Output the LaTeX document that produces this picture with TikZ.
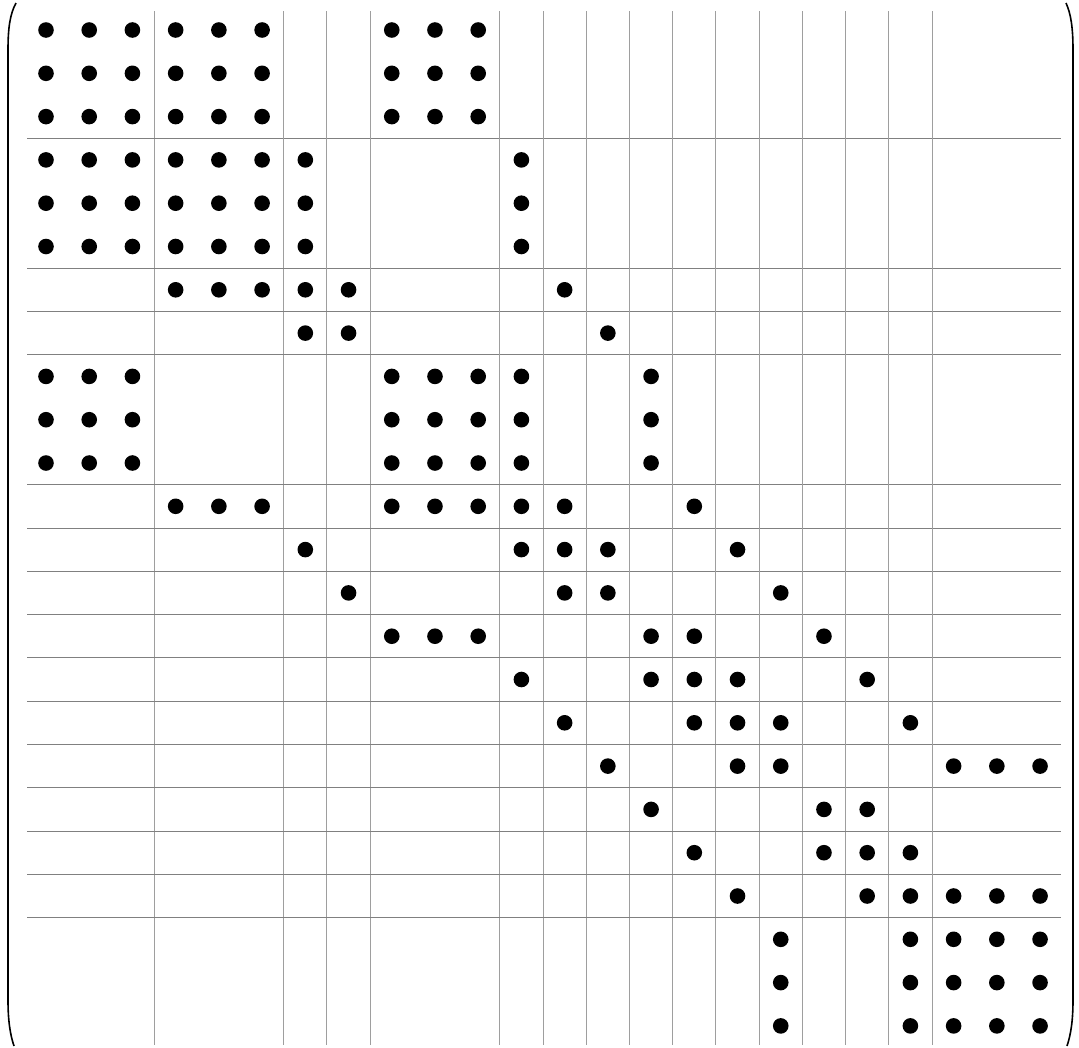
\documentclass[tikz,border=0pt]{standalone}
\begin{document}
\begin{tikzpicture}[x=1pt,y=-1pt,
  vline/.style={draw=black!38,line width=0.9pt},
  hline/.style={draw=black!50,line width=0.9pt},
  paren/.style={draw=black,line width=1.6pt},
  dotmark/.style={fill=black}]
\useasboundingbox (0,0) rectangle (1079,1047);
\def\xs{43.22}\def\ys{43.3}
% grid lines
\foreach \k in {3,6,7,8,11,12,13,14,15,16,17,18,19,20,21}{
  \pgfmathsetmacro\gx{46+(\k-0.5)*\xs}
  \pgfmathsetmacro\gy{30+(\k-0.5)*\ys}
  \draw[vline] (\gx,11) -- (\gx,1045);
  \draw[hline] (27,\gy) -- (1061,\gy);
}
% dots
\foreach \r/\cs in {
 1/{1,2,3,4,5,6,9,10,11},
 2/{1,2,3,4,5,6,9,10,11},
 3/{1,2,3,4,5,6,9,10,11},
 4/{1,2,3,4,5,6,7,12},
 5/{1,2,3,4,5,6,7,12},
 6/{1,2,3,4,5,6,7,12},
 7/{4,5,6,7,8,13},
 8/{7,8,14},
 9/{1,2,3,9,10,11,12,15},
 10/{1,2,3,9,10,11,12,15},
 11/{1,2,3,9,10,11,12,15},
 12/{4,5,6,9,10,11,12,13,16},
 13/{7,12,13,14,17},
 14/{8,13,14,18},
 15/{9,10,11,15,16,19},
 16/{12,15,16,17,20},
 17/{13,16,17,18,21},
 18/{14,17,18,22,23,24},
 19/{15,19,20},
 20/{16,19,20,21},
 21/{17,20,21,22,23,24},
 22/{18,21,22,23,24},
 23/{18,21,22,23,24},
 24/{18,21,22,23,24}}{
  \foreach \c in \cs {
    \fill[dotmark] ({46+(\c-1)*\xs},{30+(\r-1)*\ys}) circle (7.8);
  }
}
% parentheses
\draw[paren] (16,3) .. controls (10,14) and (8,28) .. (8,50) -- (8,1000) .. controls (8,1020) and (10,1034) .. (14,1046);
\draw[paren] (1066,3) .. controls (1071,14) and (1073,28) .. (1073,50) -- (1073,1000) .. controls (1073,1020) and (1071,1034) .. (1067,1046);
\end{tikzpicture}
\end{document}
